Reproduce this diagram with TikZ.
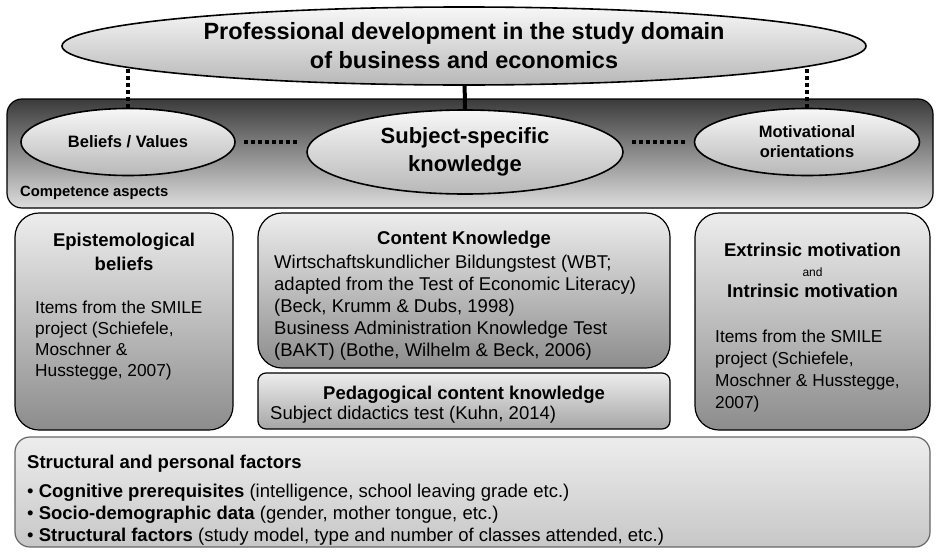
\documentclass[tikz,border=0pt]{standalone}
\usepackage{fontspec}
\setmainfont{Liberation Sans}
\usetikzlibrary{shapes.geometric,positioning}

\tikzset{
  oval/.style={ellipse, draw, line width=1.6pt, top color=black!3, bottom color=black!28, align=center, font=\bfseries, inner sep=0pt},
  panel/.style={draw, line width=1.2pt, rounded corners=24pt, top color=black!7, bottom color=black!45, inner sep=0pt},
  head/.style={inner sep=0pt, align=center, font=\bfseries\fontsize{18.5}{24}\selectfont},
  body/.style={inner sep=0pt, align=left, anchor=north west, font=\fontsize{18.5}{22}\selectfont},
  side/.style={body, font=\fontsize{17.3}{22}\selectfont},
  dots/.style={line width=3.5pt, dash pattern=on 4pt off 3pt},
}

\begin{document}
\begin{tikzpicture}[x=1pt,y=-1pt]
  \useasboundingbox (0,0) rectangle (936,554);
  \coordinate (pd_c) at (464,46);

  % competence aspects
  \node[draw, line width=1.2pt, rounded corners=15pt, top color=black!77, bottom color=black!13,
        minimum width=926pt, minimum height=109pt] (ca) at (470,153.5) {};
  \node[inner sep=0pt, anchor=west, font=\bfseries\fontsize{14.8}{17}\selectfont] (ca_t) at (20,193) {Competence aspects};
  \node[oval, minimum width=214pt, minimum height=67pt, font=\bfseries\fontsize{16.5}{20}\selectfont] (bv) at (128,142) {Beliefs / Values};
  \node[oval, minimum width=316pt, minimum height=84pt, font=\bfseries\fontsize{22}{28}\selectfont] (sk) at (465,152) {Subject-specific\\knowledge};
  \node[oval, minimum width=225pt, minimum height=67pt, font=\bfseries\fontsize{16.5}{20}\selectfont] (mo) at (807,142) {Motivational\\orientations};

  \draw[dots] (bv.north) -- (bv.north |- pd_c);
  \draw[dots] (mo.north) -- (mo.north |- pd_c);
  \draw[line width=4pt] (sk.north) -- (pd_c);
  \draw[dots, shorten <=8pt, shorten >=8pt] (bv.east) -- (bv.east -| sk.west);
  \draw[dots, shorten <=8pt, shorten >=8pt] (sk.east |- mo.west) -- (mo.west);

  \node[oval, minimum width=804pt, minimum height=78pt, font=\bfseries\fontsize{23.5}{29}\selectfont] (pd) at (pd_c)
    {Professional development in the study domain\\of business and economics};

  % measures
  \node[panel, minimum width=218pt, minimum height=217pt] (ep) at (124,321.5) {};
  \node[head] (ep_t) at (124,252) {Epistemological\\beliefs};
  \node[side, font=\fontsize{17.3}{21}\selectfont] (ep_b) at (35,301) {Items from the SMILE\\project (Schiefele,\\Moschner \&\\Husstegge, 2007)};

  \node[panel, minimum width=412pt, minimum height=155pt] (ck) at (464,290.5) {};
  \node[head] (ck_t) at (464,240) {Content Knowledge};
  \node[body] (ck_b) at (274,255) {Wirtschaftskundlicher Bildungstest (WBT;\\adapted from the Test of Economic Literacy)\\(Beck, Krumm \& Dubs, 1998)\\Business Administration Knowledge Test\\(BAKT) (Bothe, Wilhelm \& Beck, 2006)};

  \node[panel, rounded corners=8pt, bottom color=black!35, minimum width=412pt, minimum height=56pt] (pck) at (464,401) {};
  \node[head] (pck_t) at (464,395) {Pedagogical content knowledge};
  \node[body, anchor=west] (pck_b) at (270,415) {Subject didactics test (Kuhn, 2014)};

  \node[panel, minimum width=235pt, minimum height=217pt] (em) at (812.5,321.5) {};
  \node[head] (em_t) at (812.5,270) {Extrinsic motivation\\[-4pt]{\mdseries\fontsize{12}{14}\selectfont and}\\[-3pt]Intrinsic motivation};
  \node[side] (em_b) at (715,330) {Items from the SMILE\\project (Schiefele,\\Moschner \& Husstegge,\\2007)};

  % structural and personal factors
  \node[draw=black!60, line width=1.2pt, rounded corners=15pt, top color=black!7, bottom color=black!22,
        minimum width=915pt, minimum height=110pt] (sf) at (472.5,492) {};
  \node[body, font=\bfseries\fontsize{18.5}{22}\selectfont] (sf_t) at (27,455) {Structural and personal factors};
  \node[body] (sf_b) at (27,484) {\textbullet\ \textbf{Cognitive prerequisites} (intelligence, school leaving grade etc.)\\
    \textbullet\ \textbf{Socio-demographic data} (gender, mother tongue, etc.)\\
    \textbullet\ \textbf{Structural factors} (study model, type and number of classes attended, etc.)};
\end{tikzpicture}
\end{document}
